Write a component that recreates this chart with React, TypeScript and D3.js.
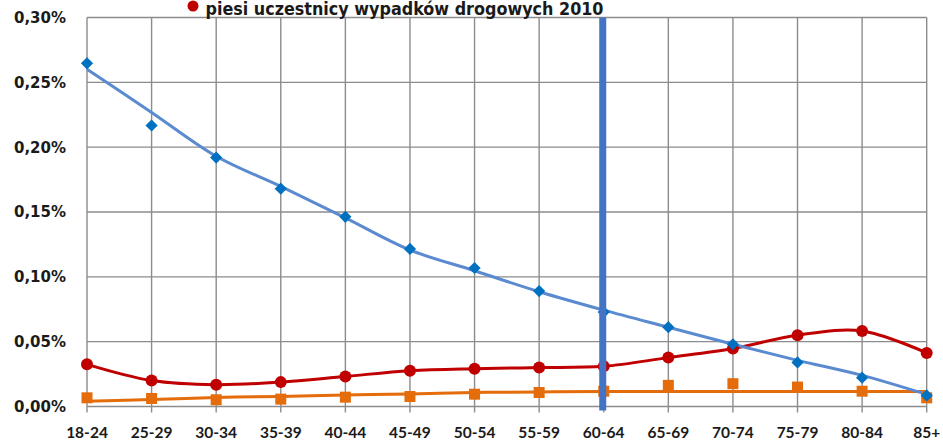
import React from "react";
import * as d3 from "d3";

const categories = ["18-24","25-29","30-34","35-39","40-44","45-49","50-54","55-59","60-64","65-69","70-74","75-79","80-84","85+"];
// blue diamond markers (%)
const blueMarkers = [0.2647,0.2167,0.192,0.168,0.1463,0.1215,0.1068,0.089,0.0728,0.0612,0.048,0.034,0.0222,0.0085];
// blue smoothed trend line (%)
const blueLine = [0.260,0.2268,0.193,0.1697,0.1455,0.1207,0.1047,0.0885,0.0743,0.0611,0.048,0.0356,0.024,0.0093];
// red circles: piesi uczestnicy wypadków drogowych 2010 (%)
const redValues = [0.0325,0.020,0.0168,0.0188,0.0232,0.0276,0.0292,0.030,0.031,0.0377,0.0447,0.055,0.0583,0.0413];
// orange square markers (%)
const orangeMarkers = [0.0067,0.0062,0.0052,0.0057,0.0072,0.0077,0.0095,0.0108,0.0118,0.0163,0.0176,0.015,0.0118,0.0067];
// orange trend line (%)
const orangeLine = [0.0041,0.0054,0.007,0.0077,0.0089,0.0097,0.0108,0.0112,0.0116,0.0116,0.0116,0.0116,0.0116,0.0116];
const yTicks = [0, 0.05, 0.1, 0.15, 0.2, 0.25, 0.3];
const highlightCategory = "60-64";
const legendLabel = "piesi uczestnicy wypadków drogowych 2010";

const W = 943, H = 440;
const left = 87, right = 926.7, top = 17.5, bottom = 406.5;

export default function App() {
  const x = d3.scalePoint<string>().domain(categories).range([left, right]).padding(0);
  const y = d3.scaleLinear().domain([0, 0.3]).range([bottom, top]);
  const fmt = (v: number) => v.toFixed(2).replace(".", ",") + "%";
  const line = d3.line<number>().x((_, i) => x(categories[i])!).y(d => y(d)).curve(d3.curveCatmullRom.alpha(0.5));
  const grid = "#8c8c8c";
  const diamond = d3.symbol().type(d3.symbolDiamond2).size(95)();
  return (
    <svg width={W} height={H} style={{ position: "absolute", left: 0, top: 0, background: "#fff" }}>
      <rect width={W} height={H} fill="#fff" />
      {yTicks.map(t => (
        <line key={"h" + t} x1={left} x2={right} y1={y(t)} y2={y(t)} stroke={grid} strokeWidth={1.4} />
      ))}
      {categories.map(c => (
        <line key={"v" + c} x1={x(c)} x2={x(c)} y1={top} y2={bottom + 6} stroke={grid} strokeWidth={1.4} />
      ))}
      {yTicks.map(t => (
        <text key={"yl" + t} x={66} y={y(t)} dy="0.36em" textAnchor="end"
          fontFamily="DejaVu Sans" fontWeight="bold" fontSize={15} fill="#1a1a1a">{fmt(t)}</text>
      ))}
      {categories.map(c => (
        <text key={"xl" + c} x={x(c)} y={438} textAnchor="middle"
          fontFamily="Lato" fontWeight="bold" fontSize={15.5} fill="#1a1a1a">{c}</text>
      ))}
      <path d={line(orangeLine)!} fill="none" stroke="#E46C0A" strokeWidth={3} />
      <path d={line(redValues)!} fill="none" stroke="#C00000" strokeWidth={3} />
      <path d={line(blueLine)!} fill="none" stroke="#5A8AD0" strokeWidth={3} />
      {orangeMarkers.map((v, i) => (
        <rect key={"o" + i} x={x(categories[i])! - 5.5} y={y(v) - 5.5} width={11} height={11} fill="#E46C0A" />
      ))}
      {redValues.map((v, i) => (
        <circle key={"r" + i} cx={x(categories[i])} cy={y(v)} r={6} fill="#C00000" />
      ))}
      {blueMarkers.map((v, i) => (
        <path key={"b" + i} d={diamond!} transform={`translate(${x(categories[i])},${y(v)})`} fill="#0070C0" />
      ))}
      <rect x={x(highlightCategory)! - 4.5} y={top} width={7} height={bottom + 4 - top} fill="#4472C4" />
      <circle cx={193} cy={6} r={5.5} fill="#C00000" />
      <text x={205.5} y={14.5} fontFamily="DejaVu Sans" fontWeight="bold" fontSize={17} fill="#1a1a1a"
        textLength={398} lengthAdjust="spacingAndGlyphs">{legendLabel}</text>
    </svg>
  );
}
